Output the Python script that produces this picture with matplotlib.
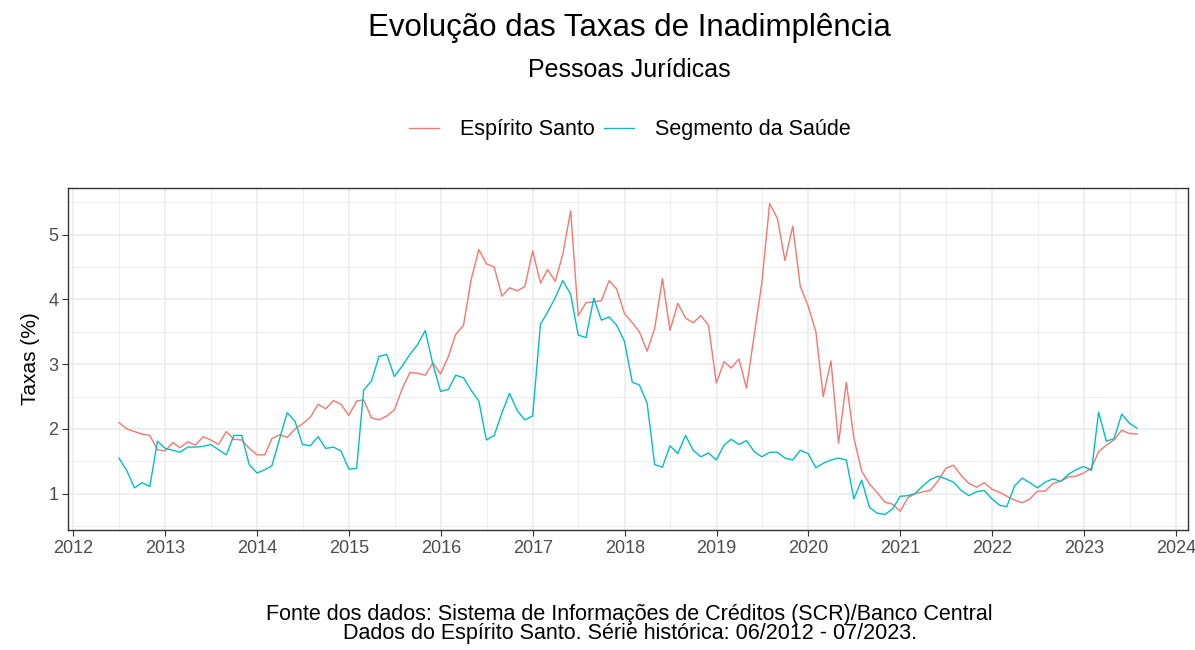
import matplotlib
matplotlib.use("Agg")
import matplotlib.pyplot as plt
import matplotlib.dates as mdates
from matplotlib.lines import Line2D
import pandas as pd

plt.rcParams['font.family'] = ['Liberation Sans', 'DejaVu Sans']

# serie mensal 06/2012 - 07/2023 (datas no fim do mes)
datas = pd.date_range('2012-06-30', periods=134, freq='ME')

# Espirito Santo
taxa_es = [
    2.10, 2.00, 1.96, 1.92, 1.90, 1.68, 1.66,
    1.79, 1.71, 1.80, 1.75, 1.88, 1.83, 1.76, 1.96, 1.84, 1.83, 1.70, 1.60,
    1.60, 1.85, 1.91, 1.87, 2.00, 2.08, 2.18, 2.38, 2.31, 2.44, 2.38, 2.21,
    2.43, 2.45, 2.17, 2.14, 2.20, 2.29, 2.62, 2.87, 2.86, 2.83, 3.02, 2.85,
    3.12, 3.46, 3.60, 4.30, 4.77, 4.55, 4.50, 4.05, 4.18, 4.13, 4.20, 4.75,
    4.25, 4.46, 4.28, 4.70, 5.37, 3.75, 3.95, 3.96, 3.98, 4.29, 4.16, 3.78,
    3.64, 3.50, 3.20, 3.55, 4.32, 3.52, 3.94, 3.71, 3.64, 3.75, 3.60, 2.71,
    3.04, 2.94, 3.08, 2.63, 3.45, 4.25, 5.48, 5.25, 4.60, 5.13, 4.20, 3.90,
    3.50, 2.50, 3.05, 1.78, 2.72, 1.86, 1.35, 1.15, 1.02, 0.87, 0.84, 0.73,
    0.94, 1.00, 1.03, 1.05, 1.20, 1.39, 1.44, 1.28, 1.16, 1.10, 1.17, 1.07,
    1.02, 0.96, 0.90, 0.86, 0.92, 1.04, 1.04, 1.16, 1.19, 1.26, 1.27, 1.32,
    1.40, 1.65, 1.75, 1.83, 1.98, 1.93, 1.92,
]

# Segmento da Saude
taxa_saude = [
    1.55, 1.36, 1.09, 1.17, 1.11, 1.81, 1.70,
    1.67, 1.64, 1.72, 1.72, 1.73, 1.76, 1.68, 1.60, 1.90, 1.90, 1.45, 1.32,
    1.37, 1.43, 1.85, 2.25, 2.12, 1.76, 1.74, 1.88, 1.70, 1.72, 1.66, 1.38,
    1.39, 2.60, 2.74, 3.12, 3.15, 2.81, 2.97, 3.15, 3.30, 3.52, 3.00, 2.58,
    2.61, 2.83, 2.79, 2.60, 2.43, 1.83, 1.90, 2.25, 2.55, 2.28, 2.14, 2.20,
    3.62, 3.80, 4.03, 4.29, 4.08, 3.45, 3.41, 4.02, 3.68, 3.73, 3.60, 3.35,
    2.72, 2.68, 2.40, 1.45, 1.41, 1.74, 1.62, 1.90, 1.67, 1.57, 1.63, 1.52,
    1.75, 1.84, 1.76, 1.82, 1.65, 1.57, 1.64, 1.64, 1.55, 1.52, 1.67, 1.62,
    1.40, 1.47, 1.52, 1.55, 1.52, 0.92, 1.21, 0.79, 0.70, 0.68, 0.76, 0.96,
    0.97, 1.00, 1.12, 1.22, 1.27, 1.23, 1.18, 1.05, 0.97, 1.03, 1.05, 0.92,
    0.82, 0.80, 1.12, 1.24, 1.17, 1.09, 1.18, 1.23, 1.19, 1.30, 1.37, 1.42,
    1.36, 2.26, 1.81, 1.85, 2.23, 2.09, 2.01,
]

series = ["Espírito Santo", "Segmento da Saúde"]
cores = ["#F8766D", "#00BFC4"]

fig = plt.figure(figsize=(11.95, 6.5), dpi=100)
ax = fig.add_axes([68/1195, 120/650, 1120/1195, 342/650])

ax.plot(datas, taxa_es, color=cores[0], lw=1.0)
ax.plot(datas, taxa_saude, color=cores[1], lw=1.0)

# eixos estilo theme_bw
x0, x1 = mdates.date2num(datas[0]), mdates.date2num(datas[-1])
pad = (x1 - x0) * 0.05
ax.set_xlim(x0 - pad, x1 + pad)
todos = taxa_es + taxa_saude
ypad = (max(todos) - min(todos)) * 0.05
ax.set_ylim(min(todos) - ypad, max(todos) + ypad)

ax.xaxis.set_major_locator(mdates.YearLocator())
ax.xaxis.set_major_formatter(mdates.DateFormatter('%Y'))
ax.xaxis.set_minor_locator(mdates.MonthLocator(bymonth=7))
ax.set_yticks([1, 2, 3, 4, 5])
ax.set_yticks([0.5, 1.5, 2.5, 3.5, 4.5, 5.5], minor=True)

ax.grid(which='major', color='#EBEBEB', lw=1.1)
ax.grid(which='minor', color='#EBEBEB', lw=0.6)
ax.set_axisbelow(True)
for s in ax.spines.values():
    s.set_color('#333333')
    s.set_linewidth(1.0)
ax.tick_params(which='major', length=4, color='#333333', labelsize=13, labelcolor='#4D4D4D', pad=3)
ax.tick_params(which='minor', length=0)

ax.set_ylabel("Taxas (%)", fontsize=15, labelpad=6)

fig.text(0.527, 0.957, "Evolução das Taxas de Inadimplência", ha='center', va='center', fontsize=22.5)
fig.text(0.527, 0.892, "Pessoas Jurídicas", ha='center', va='center', fontsize=18)

handles = [Line2D([], [], color=c, lw=1.0) for c in cores]
fig.legend(handles, series, loc='center', bbox_to_anchor=(0.527, 0.80), ncol=2, frameon=False,
           fontsize=15.5, handlelength=1.4, handletextpad=0.95, columnspacing=0.45)

fig.text(0.527, 0.040, "Fonte dos dados: Sistema de Informações de Créditos (SCR)/Banco Central\n"
         "Dados do Espírito Santo. Série histórica: 06/2012 - 07/2023.",
         ha='center', va='center', fontsize=15.5, linespacing=0.92, multialignment='center')

fig.savefig("out.png", dpi=100, facecolor='white')
